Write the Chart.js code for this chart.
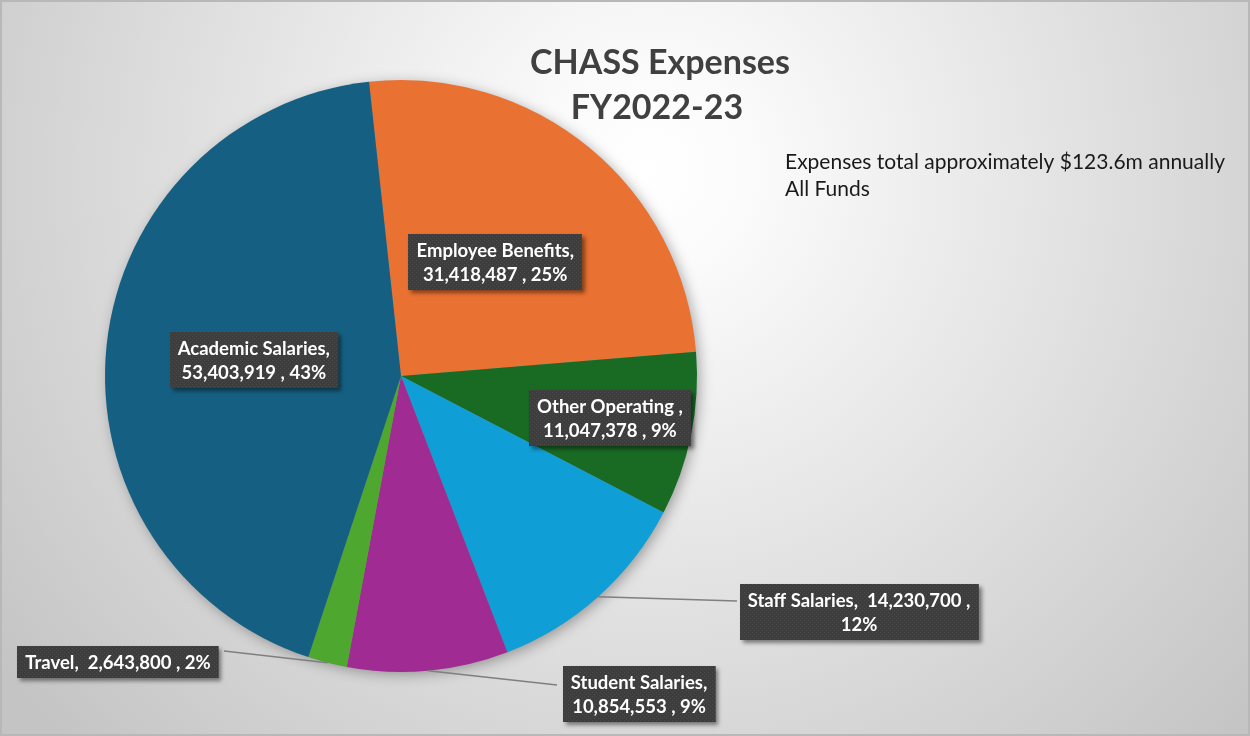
<!DOCTYPE html>
<html>
<head>
<meta charset="utf-8">
<script src="https://cdn.jsdelivr.net/npm/chart.js@4.4.0/dist/chart.umd.min.js"></script>
<style>
  html, body { margin: 0; padding: 0; background: #d0d0d0; }
  #wrap { width: 1250px; height: 736px; position: relative; }
</style>
</head>
<body>
<div id="wrap"><canvas id="myChart" width="1250" height="736"></canvas></div>
<script>
// CHASS expenses FY2022-23 -- data
var categories = ["Employee Benefits", "Other Operating", "Staff Salaries", "Student Salaries", "Travel", "Academic Salaries"];
var expenses = [31418487, 11047378, 14230700, 10854553, 2643800, 53403919];
var sliceColors = ["#E97132", "#196B24", "#0F9ED5", "#A02B93", "#4EA72E", "#156082"];

var titleLines = ["CHASS Expenses", "FY2022-23"];
var noteLines = ["Expenses total approximately $123.6m annually", "All Funds"];

var total = expenses.reduce(function (a, b) { return a + b; }, 0);
function fmt(v) { return v.toLocaleString("en-US"); }
function pct(v) { return Math.round(v / total * 100) + "%"; }

// how each data label is laid out (Excel style boxes)
var labelLayout = [
  { inside: true, r: 0.5, lines: function (n, v, p) { return [n + ",", v + " , " + p]; } },
  { inside: true, r: 0.72, lines: function (n, v, p) { return [n + " ,", v + " , " + p]; } },
  { inside: false, cx: 859, cy: 612, ax: 737, ay: 601, lines: function (n, v, p) { return [n + ",  " + v + " ,", p]; } },
  { inside: false, cx: 639, cy: 694, ax: 557, ay: 685, lines: function (n, v, p) { return [n + ",", v + " , " + p]; } },
  { inside: false, cx: 118, cy: 662, ax: 224, ay: 651, lines: function (n, v, p) { return [n + ",  " + v + " , " + p]; } },
  { inside: true, r: 0.5, lines: function (n, v, p) { return [n + ",", v + " , " + p]; } }
];

// dotted texture for label boxes
var pat = document.createElement("canvas");
pat.width = 4; pat.height = 4;
var pc = pat.getContext("2d");
pc.fillStyle = "#3d3d3d"; pc.fillRect(0, 0, 4, 4);
pc.fillStyle = "#4c4c4c"; pc.fillRect(0, 0, 1, 1); pc.fillRect(2, 2, 1, 1);

var bgPlugin = {
  id: "bg",
  beforeDraw: function (chart) {
    var ctx = chart.ctx;
    var g = ctx.createRadialGradient(650, 170, 0, 650, 170, 820);
    g.addColorStop(0, "#ffffff");
    g.addColorStop(0.12, "#fbfbfb");
    g.addColorStop(1, "#c4c4c4");
    ctx.save();
    ctx.fillStyle = g;
    ctx.fillRect(0, 0, chart.width, chart.height);
    ctx.strokeStyle = "#b8b8b8";
    ctx.lineWidth = 2;
    ctx.strokeRect(1, 1, chart.width - 2, chart.height - 2);
    ctx.restore();
  },
  beforeDatasetsDraw: function (chart) {
    var arc = chart.getDatasetMeta(0).data[0];
    var ctx = chart.ctx;
    ctx.save();
    ctx.shadowColor = "rgba(0,0,0,0.35)";
    ctx.shadowBlur = 14;
    ctx.shadowOffsetX = 3;
    ctx.shadowOffsetY = 3;
    ctx.fillStyle = "#888";
    ctx.beginPath();
    ctx.arc(arc.x, arc.y, arc.outerRadius - 1, 0, Math.PI * 2);
    ctx.fill();
    ctx.restore();
  }
};

var labelPlugin = {
  id: "boxLabels",
  afterDatasetsDraw: function (chart) {
    var ctx = chart.ctx;
    var meta = chart.getDatasetMeta(0);
    var lineH = 24;
    ctx.save();
    ctx.font = "bold 18.5px Lato";
    ctx.textAlign = "center";
    ctx.textBaseline = "middle";
    meta.data.forEach(function (arc, i) {
      var lay = labelLayout[i];
      var mid = (arc.startAngle + arc.endAngle) / 2;
      var lines = lay.lines(categories[i], fmt(expenses[i]), pct(expenses[i]));
      var w = 0;
      lines.forEach(function (t) { w = Math.max(w, ctx.measureText(t).width); });
      var bw = w + 16, bh = lines.length * lineH + 8;
      var cx, cy;
      if (lay.inside) {
        cx = arc.x + Math.cos(mid) * arc.outerRadius * lay.r;
        cy = arc.y + Math.sin(mid) * arc.outerRadius * lay.r;
      } else {
        cx = lay.cx; cy = lay.cy;
        // leader line from slice edge to the box
        var ex = arc.x + Math.cos(mid) * arc.outerRadius;
        var ey = arc.y + Math.sin(mid) * arc.outerRadius;
        ctx.strokeStyle = "#7f7f7f";
        ctx.lineWidth = 1.5;
        ctx.beginPath();
        ctx.moveTo(ex, ey);
        ctx.lineTo(lay.ax, lay.ay);
        ctx.stroke();
      }
      var bx = Math.round(cx - bw / 2), by = Math.round(cy - bh / 2);
      ctx.save();
      ctx.shadowColor = "rgba(0,0,0,0.45)";
      ctx.shadowBlur = 4;
      ctx.shadowOffsetX = 3;
      ctx.shadowOffsetY = 3;
      ctx.fillStyle = "#3d3d3d";
      ctx.fillRect(bx, by, bw, bh);
      ctx.restore();
      ctx.fillStyle = ctx.createPattern(pat, "repeat");
      ctx.fillRect(bx, by, bw, bh);
      ctx.fillStyle = "#ffffff";
      lines.forEach(function (t, k) {
        ctx.fillText(t, cx, by + 4 + lineH / 2 + k * lineH + 1);
      });
    });
    ctx.restore();
  },
  afterDraw: function (chart) {
    var ctx = chart.ctx;
    ctx.save();
    ctx.textAlign = "center";
    ctx.textBaseline = "middle";
    ctx.fillStyle = "#404040";
    ctx.font = "bold 34px Lato";
    ctx.fillText(titleLines[0], 660, 63);
    ctx.fillText(titleLines[1], 657, 108);
    ctx.textAlign = "left";
    ctx.fillStyle = "#1a1a1a";
    ctx.font = "21px Lato";
    ctx.fillText(noteLines[0], 785, 162);
    ctx.fillText(noteLines[1], 785, 189);
    ctx.restore();
  }
};

new Chart("myChart", {
  type: "pie",
  data: {
    labels: categories,
    datasets: [{
      backgroundColor: sliceColors,
      borderWidth: 0,
      data: expenses
    }]
  },
  options: {
    responsive: false,
    animation: false,
    devicePixelRatio: 1,
    rotation: -6.2,
    layout: { padding: { left: 105, right: 553, top: 80, bottom: 64 } },
    plugins: {
      legend: { display: false },
      tooltip: { enabled: false },
      title: { display: false }
    }
  },
  plugins: [bgPlugin, labelPlugin]
});
</script>
</body>
</html>
